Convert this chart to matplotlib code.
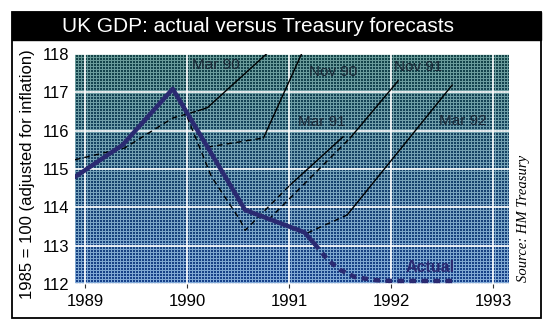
import numpy as np
import matplotlib
matplotlib.use("Agg")
import matplotlib.pyplot as plt
from matplotlib.patches import Rectangle

# PIB reel (base 1985 = 100) et previsions successives du Tresor
actual_x = [1988.90, 1989.37, 1989.86, 1990.57, 1991.00, 1991.15, 1991.25]
actual_y = [114.79, 115.63, 117.09, 113.93, 113.50, 113.35, 113.05]
actual_est_x = [1991.25, 1991.38, 1991.50, 1991.65, 1991.85, 1992.00, 1992.62]
actual_est_y = [113.05, 112.63, 112.37, 112.18, 112.10, 112.08, 112.08]

# chaque prevision : partie tiretee (estimation du passe) puis partie pleine
forecasts = {
    "Mar 90": ([1988.90, 1989.39, 1989.86, 1990.11], [115.24, 115.55, 116.33, 116.52],
               [1990.11, 1990.20, 1990.82], [116.52, 116.60, 118.10]),
    "Nov 90": ([1990.20, 1990.75], [115.57, 115.81],
               [1990.75, 1991.14], [115.81, 118.10]),
    "Mar 91": ([1989.93, 1990.24, 1990.52, 1990.57, 1991.01], [116.83, 114.80, 113.67, 113.40, 114.58],
               [1991.01, 1991.53], [114.58, 115.84]),
    "Nov 91": ([1990.80, 1991.60], [113.68, 115.81],
               [1991.60, 1992.07], [115.81, 117.30]),
    "Mar 92": ([1991.18, 1991.57], [113.33, 113.80],
               [1991.57, 1992.60], [113.80, 117.19]),
}

years = [1989, 1990, 1991, 1992, 1993]
levels = [112, 113, 114, 115, 116, 117, 118]

label_pos = {
    "Mar 90": (1990.28, 117.71),
    "Nov 90": (1991.43, 117.53),
    "Nov 91": (1992.27, 117.66),
    "Mar 91": (1991.32, 116.23),
    "Mar 92": (1992.70, 116.25),
}

W, H = 555, 333
fig = plt.figure(figsize=(W / 100, H / 100), dpi=100)
fig.patch.set_facecolor("white")

# cadre + bandeau titre
fig.patches.append(Rectangle((12 / W, 1 - 318 / H), 529 / W, 306 / H, transform=fig.transFigure,
                             fill=False, ec="black", lw=1.3))
fig.patches.append(Rectangle((12 / W, 1 - 40 / H), 529 / W, 28 / H, transform=fig.transFigure,
                             fc="black", ec="black"))
fig.text(258 / W, 1 - 26 / H, "UK GDP: actual versus Treasury forecasts", color="white",
         fontsize=15, ha="center", va="center", family="Liberation Sans")

ax = fig.add_axes([75 / W, 1 - 284 / H, 434 / W, 230 / H])
x0, x1 = 1988.902, 1993.157
y0, y1 = 112, 118
ax.set_xlim(x0, x1)
ax.set_ylim(y0, y1)

# fond trame : carres sombres separes par un fin quadrillage clair, degrade vert -> bleu
ph, pw = 230, 434
t = np.linspace(0, 1, ph)[:, None, None]
dark = (1 - t) * np.array([20, 68, 72]) + t * np.array([25, 66, 140])
light = (1 - t) * np.array([105, 155, 152]) + t * np.array([130, 170, 215])
ii, jj = np.mgrid[0:ph, 0:pw]
mesh = ((ii % 3 == 0) | (jj % 3 == 0))[:, :, None]
img = np.where(mesh, light, dark) / 255.0
ax.imshow(img, extent=(x0, x1, y0, y1), aspect="auto", interpolation="nearest", zorder=0)

for yr in years:
    ax.axvline(yr, color="white", lw=1.2, zorder=1)
for lv in levels:
    ax.axhline(lv, color="white", lw=1.2, zorder=1)

for name, (dx, dy, sx, sy) in forecasts.items():
    ax.plot(dx, dy, color="black", lw=1.0, ls=(0, (4, 3)), zorder=3)
    ax.plot(sx, sy, color="black", lw=1.0, zorder=3)
    lx, ly = label_pos[name]
    ax.text(lx, ly, name, fontsize=11, color="#1c2836", ha="center", va="center",
            family="Liberation Sans", zorder=4)

navy = "#2b2a72"
ax.plot(actual_x, actual_y, color=navy, lw=3.2, solid_capstyle="round",
        solid_joinstyle="round", zorder=5)
ax.plot(actual_est_x, actual_est_y, color=navy, lw=3.2, ls=(0, (1.5, 1.2)), zorder=5)
ax.text(1992.38, 112.42, "Actual", fontsize=11.5, fontweight="bold", color=navy,
        ha="center", va="center", family="Liberation Sans", zorder=6)

for s in ax.spines.values():
    s.set_visible(False)
ax.set_xticks(years)
ax.set_yticks(levels)
ax.tick_params(axis="x", length=3, width=0.8, color="#333333", pad=4, labelsize=12)
ax.tick_params(axis="y", length=0, pad=4, labelsize=12)
for lab in ax.get_xticklabels() + ax.get_yticklabels():
    lab.set_family("Liberation Sans")

fig.text(28 / W, 1 - 174 / H, "1985 = 100 (adjusted for inflation)", rotation=90,
         fontsize=12, ha="center", va="center", family="Liberation Sans")
fig.text(523 / W, 1 - 218 / H, "Source: HM Treasury", rotation=90, fontsize=10.5,
         style="italic", ha="center", va="center", family="Liberation Serif")

fig.savefig("out.png", dpi=100)
